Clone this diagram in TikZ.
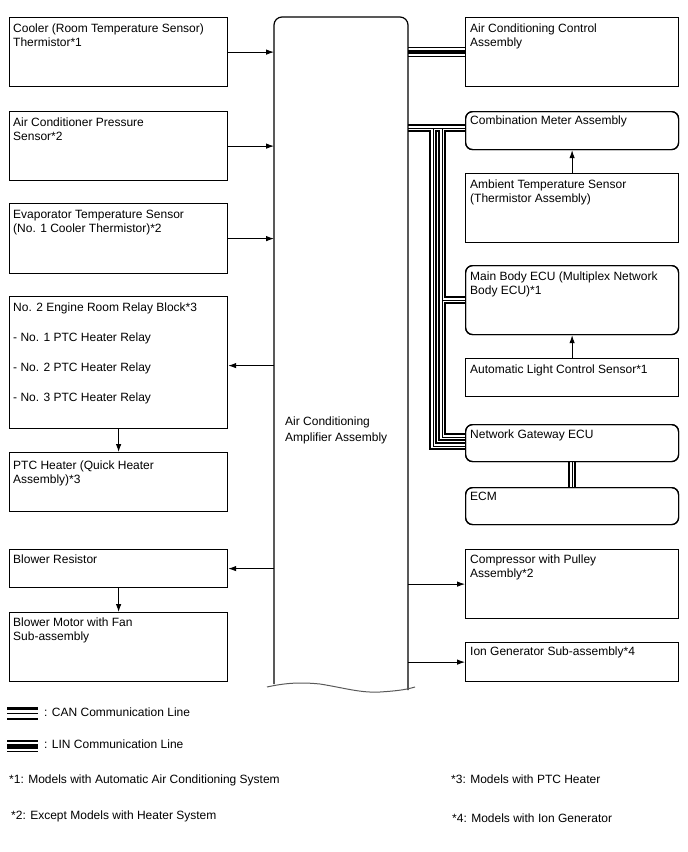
\documentclass[tikz,border=0pt]{standalone}
\usepackage{fontspec}
\setmainfont{Liberation Sans}
\usetikzlibrary{arrows.meta}
\begin{document}
\begin{tikzpicture}[x=1pt,y=-1pt,
  box/.style={draw, line width=1.2pt, rectangle, inner sep=0pt, anchor=north west},
  rbox/.style={box, rounded corners=7pt},
  txt/.style={inner sep=0pt, anchor=base west, align=left, font=\fontsize{12}{14}\selectfont},
  arr/.style={draw, line width=0.9pt, -{Latex[length=8pt,width=5.5pt]}},
  canO/.style={line width=8pt, black},
  canW/.style={line width=4.5pt, white},
  canI/.style={line width=0.8pt, black},
  linO/.style={line width=10pt, black},
  linW/.style={line width=7.6pt, white},
  linI/.style={line width=3.4pt, black},
]
\useasboundingbox (0,0) rectangle (688,852);

% central amplifier (invisible anchor node)
\node[inner sep=0pt, minimum width=134pt, minimum height=670pt, anchor=north west] (amp) at (274,17) {};

% left column
\node[box, minimum width=218pt, minimum height=69pt] (cooler) at (9,17) {};
\node[box, minimum width=218pt, minimum height=69pt] (press) at (9,111) {};
\node[box, minimum width=218pt, minimum height=70pt] (evap) at (9,203) {};
\node[box, minimum width=218pt, minimum height=132pt] (relay) at (9,296) {};
\node[box, minimum width=218pt, minimum height=59pt] (ptc) at (9,452) {};
\node[box, minimum width=218pt, minimum height=38pt] (blres) at (9,549) {};
\node[box, minimum width=218pt, minimum height=69pt] (blmot) at (9,612) {};

% right column
\node[box, minimum width=213pt, minimum height=69pt] (acc) at (465,17) {};
\node[rbox, minimum width=213pt, minimum height=38pt] (comb) at (465,111) {};
\node[box, minimum width=213pt, minimum height=69pt] (amb) at (465,173) {};
\node[rbox, minimum width=213pt, minimum height=69pt] (mbe) at (465,265) {};
\node[box, minimum width=213pt, minimum height=38pt] (alcs) at (465,358) {};
\node[rbox, minimum width=213pt, minimum height=37pt] (ngw) at (465,424) {};
\node[rbox, minimum width=213pt, minimum height=37pt] (ecm) at (465,487) {};
\node[box, minimum width=213pt, minimum height=69pt] (comp) at (465,549) {};
\node[box, minimum width=213pt, minimum height=39pt] (ion) at (465,642) {};

% CAN network coordinates
\coordinate (cA) at (408,128);
\coordinate (cB) at (433,128);
\coordinate (cC) at (442,128);
\coordinate (bEnd) at (465,446);
\coordinate (cEnd) at (465,437);
\coordinate (mbeIn) at (465,300);
\newcommand\CANnet[1]{%
  \draw[#1] (cA) -- (cA -| comb.west);
  \draw[#1] (cB) -- (cB |- bEnd) -- (bEnd);
  \draw[#1] (cC) -- (cC |- cEnd) -- (cEnd);
  \draw[#1] (cC |- mbeIn) -- (mbeIn);
  \draw[#1] (ngw.south) -- (ecm.north);
}
\CANnet{canO}
\CANnet{canW}
\CANnet{canI}

% LIN
\draw[linO] (amp.east |- acc.west) -- (acc.west);
\draw[linW] (amp.east |- acc.west) -- (acc.west);
\draw[linI] (amp.east |- acc.west) -- (acc.west);

% redraw right box borders on top
\node[box, minimum width=213pt, minimum height=69pt] at (465,17) {};
\node[rbox, minimum width=213pt, minimum height=38pt] at (465,111) {};
\node[rbox, minimum width=213pt, minimum height=69pt] at (465,265) {};
\node[rbox, minimum width=213pt, minimum height=37pt] at (465,424) {};
\node[rbox, minimum width=213pt, minimum height=37pt] at (465,487) {};

% central box outline
\draw[line width=1.2pt, rounded corners=8pt] (274,684) -- (274,17) -- (408,17) -- (408,690);
\draw[line width=1pt, black!65] (267,687) .. controls (285,683) and (300,682) .. (320,684)
  .. controls (345,688) and (360,693) .. (380,692) .. controls (395,691) and (405,690) .. (415,687);

% texts (base anchor = baseline of last line)
\node[txt] (coolerT) at (13,46.5) {Cooler (Room Temperature Sensor)\\Thermistor*1};
\node[txt] (pressT) at (13,140.5) {Air Conditioner Pressure\\Sensor*2};
\node[txt] (evapT) at (13,232.5) {Evaporator Temperature Sensor\\(No. 1 Cooler Thermistor)*2};
\node[txt] (relayT) at (13,401.5) {No. 2 Engine Room Relay Block*3\\[16pt]- No. 1 PTC Heater Relay\\[16pt]- No. 2 PTC Heater Relay\\[16pt]- No. 3 PTC Heater Relay};
\node[txt] (ptcT) at (13,483.5) {PTC Heater (Quick Heater\\Assembly)*3};
\node[txt] (blresT) at (13,563.5) {Blower Resistor};
\node[txt] (blmotT) at (13,640.5) {Blower Motor with Fan\\Sub-assembly};
\node[txt] (ampT) at (285,441.5) {Air Conditioning\\[2pt]Amplifier Assembly};
\node[txt] (accT) at (470,46.5) {Air Conditioning Control\\Assembly};
\node[txt] (combT) at (470,124.5) {Combination Meter Assembly};
\node[txt] (ambT) at (470,202.5) {Ambient Temperature Sensor\\(Thermistor Assembly)};
\node[txt] (mbeT) at (470,294.5) {Main Body ECU (Multiplex Network\\Body ECU)*1};
\node[txt] (alcsT) at (470,373.5) {Automatic Light Control Sensor*1};
\node[txt] (ngwT) at (470,438.5) {Network Gateway ECU};
\node[txt] (ecmT) at (470,500.5) {ECM};
\node[txt] (compT) at (470,577.5) {Compressor with Pulley\\Assembly*2};
\node[txt] (ionT) at (470,655.5) {Ion Generator Sub-assembly*4};

% arrows
\draw[arr] (cooler.east) -- (cooler.east -| amp.west);
\draw[arr] (press.east) -- (press.east -| amp.west);
\draw[arr] (evap.east) -- (evap.east -| amp.west);
\draw[arr] ([yshift=-3pt]relay.east -| amp.west) -- ([yshift=-3pt]relay.east);
\draw[arr] (relay.south) -- (ptc.north);
\draw[arr] (blres.east -| amp.west) -- (blres.east);
\draw[arr] (blres.south) -- (blmot.north);
\draw[arr] (amb.north) -- (comb.south);
\draw[arr] (alcs.north) -- (mbe.south);
\draw[arr] (amp.east |- comp.west) -- (comp.west);
\draw[arr] (amp.east |- ion.west) -- (ion.west);

% legend
\coordinate (lc1) at (7,713.5);
\coordinate (lc2) at (38,713.5);
\draw[line width=13pt] (lc1) -- (lc2);
\draw[line width=8pt, white] (lc1) -- (lc2);
\draw[line width=1.5pt] (lc1) -- (lc2);
\coordinate (ll1) at (7,746);
\coordinate (ll2) at (38,746);
\draw[line width=12pt] (ll1) -- (ll2);
\draw[line width=9pt, white] (ll1) -- (ll2);
\draw[line width=5pt] (ll1) -- (ll2);
\node[txt] (canT) at (44,716.5) {: CAN Communication Line};
\node[txt] (linT) at (44,748.5) {: LIN Communication Line};

% footnotes
\node[txt] (f1) at (9,783) {*1: Models with Automatic Air Conditioning System};
\node[txt] (f3) at (451,783) {*3: Models with PTC Heater};
\node[txt] (f2) at (11,819) {*2: Except Models with Heater System};
\node[txt] (f4) at (452,822) {*4: Models with Ion Generator};
\end{tikzpicture}
\end{document}
